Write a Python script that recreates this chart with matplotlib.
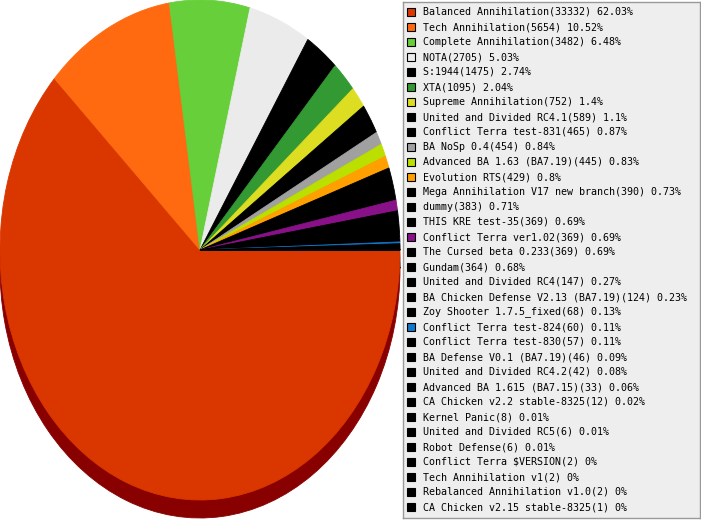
import matplotlib
matplotlib.use("Agg")
import matplotlib.pyplot as plt
from matplotlib.patches import Rectangle
from matplotlib.colors import to_rgb

# mod names, games played and share (as printed in the legend)
mods = ["Balanced Annihilation", "Tech Annihilation", "Complete Annihilation", "NOTA",
        "S:1944", "XTA", "Supreme Annihilation", "United and Divided RC4.1",
        "Conflict Terra test-831", "BA NoSp 0.4", "Advanced BA 1.63 (BA7.19)",
        "Evolution RTS", "Mega Annihilation V17 new branch", "dummy", "THIS KRE test-35",
        "Conflict Terra ver1.02", "The Cursed beta 0.233", "Gundam",
        "United and Divided RC4", "BA Chicken Defense V2.13 (BA7.19)",
        "Zoy Shooter 1.7.5_fixed", "Conflict Terra test-824", "Conflict Terra test-830",
        "BA Defense V0.1 (BA7.19)", "United and Divided RC4.2", "Advanced BA 1.615 (BA7.15)",
        "CA Chicken v2.2 stable-8325", "Kernel Panic", "United and Divided RC5",
        "Robot Defense", "Conflict Terra $VERSION", "Tech Annihilation v1",
        "Rebalanced Annihilation v1.0", "CA Chicken v2.15 stable-8325"]
games = [33332, 5654, 3482, 2705, 1475, 1095, 752, 589, 465, 454, 445, 429, 390, 383,
         369, 369, 369, 364, 147, 124, 68, 60, 57, 46, 42, 33, 12, 8, 6, 6, 2, 2, 2, 1]
share = ["62.03", "10.52", "6.48", "5.03", "2.74", "2.04", "1.4", "1.1", "0.87", "0.84",
         "0.83", "0.8", "0.73", "0.71", "0.69", "0.69", "0.69", "0.68", "0.27", "0.23",
         "0.13", "0.11", "0.11", "0.09", "0.08", "0.06", "0.02", "0.01", "0.01", "0.01",
         "0", "0", "0", "0"]
colors = ["#DA3600", "#FF6A11", "#66CF3A", "#EBEBEB", "#000000", "#339933", "#DDDD22",
          "#000000", "#000000", "#A0A0A0", "#BBE000", "#FFA000", "#000000", "#000000",
          "#000000", "#881188"] + ["#000000"] * 5 + ["#1177CC"] + ["#000000"] * 12

W, H = 701, 520
fig = plt.figure(figsize=(W / 100, H / 100), dpi=100)

# pie: ellipse 400 x 500 px, centre at (200, 250), shadow 18 px below
ax = fig.add_axes([0, 0, 400 / W, 1])
shadow = [tuple(c * 0.6 for c in to_rgb(col)) for col in colors]
shadow[0] = "#880000"
sw, _ = ax.pie(games, colors=shadow, startangle=0, counterclock=False, center=(0, -0.072),
               wedgeprops=dict(linewidth=0.6))
pw, _ = ax.pie(games, colors=colors, startangle=0, counterclock=False,
               wedgeprops=dict(linewidth=0.6))
for w in list(sw) + list(pw):
    w.set_edgecolor(w.get_facecolor())
ax.set_aspect("auto")
ax.set_xlim(-1, 1)
ax.set_ylim(-1.08, 1)
ax.axis("off")

# legend box
lg = fig.add_axes([403 / W, 2 / H, 297 / W, 516 / H])
lg.set_xlim(0, 297)
lg.set_ylim(516, 0)
lg.set_facecolor("#EEEEEE")
lg.set_xticks([])
lg.set_yticks([])
for s in lg.spines.values():
    s.set_color("#999999")
    s.set_linewidth(1)

for i in range(len(mods)):
    y = 10 + 15 * i
    lg.add_patch(Rectangle((4, y - 4), 8, 8, facecolor=colors[i], edgecolor="black",
                           linewidth=0.8))
    lg.text(20, y, "%s(%d) %s%%" % (mods[i], games[i], share[i]), va="center",
            ha="left", fontsize=7.2, family="DejaVu Sans Mono", color="black")

fig.savefig("out.png", dpi=100)
